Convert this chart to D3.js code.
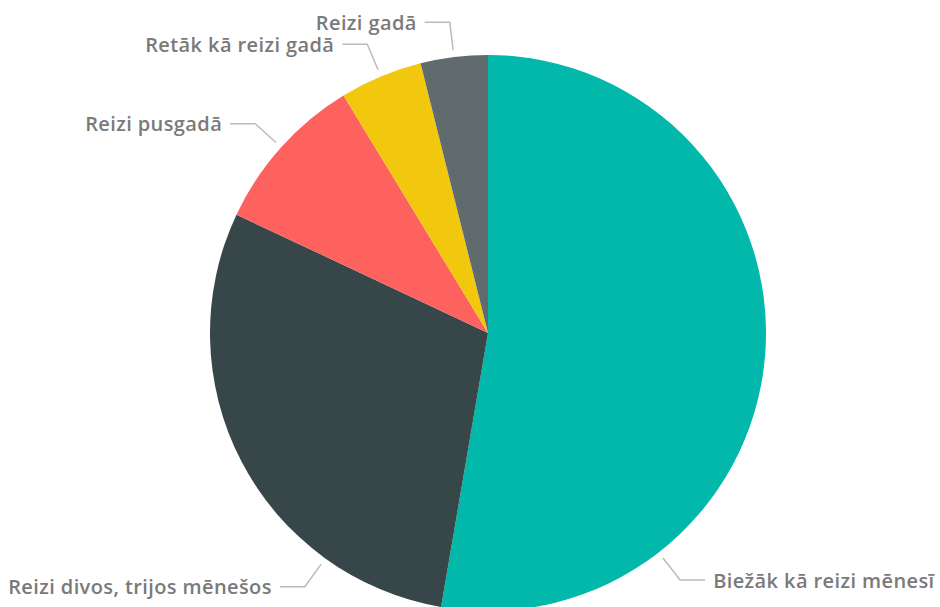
<!doctype html>
<html>
<head>
	<meta charset="utf-8"/>
	<script src="https://d3js.org/d3.v7.min.js"></script>
	<style>
		body { margin: 0; background: #fff; }
		text { font-family: "Open Sans", sans-serif; }
	</style>
</head>
<body>
	<div id="chart"></div>
	<script>
		var categories = ["Biežāk kā reizi mēnesī", "Reizi divos, trijos mēnešos", "Reizi pusgadā", "Retāk kā reizi gadā", "Reizi gadā"];
		var shares = [52.7, 29.3, 9.3, 4.8, 3.9];
		var colours = ["#01B8AA", "#374649", "#FD625E", "#F2C80F", "#5F6B6D"];

		var width = 940, height = 607;
		var cx = 488, cy = 333, radius = 278;

		var rows = categories.map(function(c, i) { return {name: c, value: shares[i], colour: colours[i]}; });

		var svg = d3.select("#chart").append("svg")
			.attr("width", width)
			.attr("height", height);

		var pie = d3.pie().sort(null).value(function(d) { return d.value; });
		var arc = d3.arc().innerRadius(0).outerRadius(radius);
		var arcs = pie(rows);

		var g = svg.append("g").attr("transform", "translate(" + cx + "," + cy + ")");

		g.selectAll("path.slice")
			.data(arcs)
			.enter().append("path")
			.attr("class", "slice")
			.attr("d", arc)
			.attr("fill", function(d) { return d.data.colour; });

		function point(a, r) { return [Math.sin(a) * r, -Math.cos(a) * r]; }

		var lineLen = 25, gap = 8, elbowR = radius + 35, startR = radius + 7;

		arcs.forEach(function(d) {
			var mid = (d.startAngle + d.endAngle) / 2;
			var right = Math.sin(mid) > 0;

			var label = svg.append("text")
				.text(d.data.name)
				.attr("fill", "#7a7a7a")
				.style("font-size", "20px")
				.style("font-weight", 600)
				.style("letter-spacing", "0.4px")
				.attr("dominant-baseline", "central")
				.attr("text-anchor", right ? "start" : "end");
			var w = label.node().getComputedTextLength();

			// slide the label along the arc towards the bottom until it fits
			function fits(a) {
				var e = point(a, elbowR);
				if (right) return cx + e[0] + lineLen + gap + w <= width - 5;
				return cx + e[0] - lineLen - gap - w >= 8;
			}
			var a = mid;
			while (!fits(a) && Math.abs(a - Math.PI) > 0.01) a += right ? 0.005 : -0.005;

			var s = point(a, startR), e = point(a, elbowR);
			var hx = e[0] + (right ? lineLen : -lineLen);

			g.append("polyline")
				.attr("points", [s, e, [hx, e[1]]].map(function(p) { return p.join(","); }).join(" "))
				.attr("fill", "none")
				.attr("stroke", "#bbb")
				.attr("stroke-width", 1.5);

			label.attr("x", cx + hx + (right ? gap : -gap))
				.attr("y", cy + e[1]);
		});
	</script>
</body>
</html>
